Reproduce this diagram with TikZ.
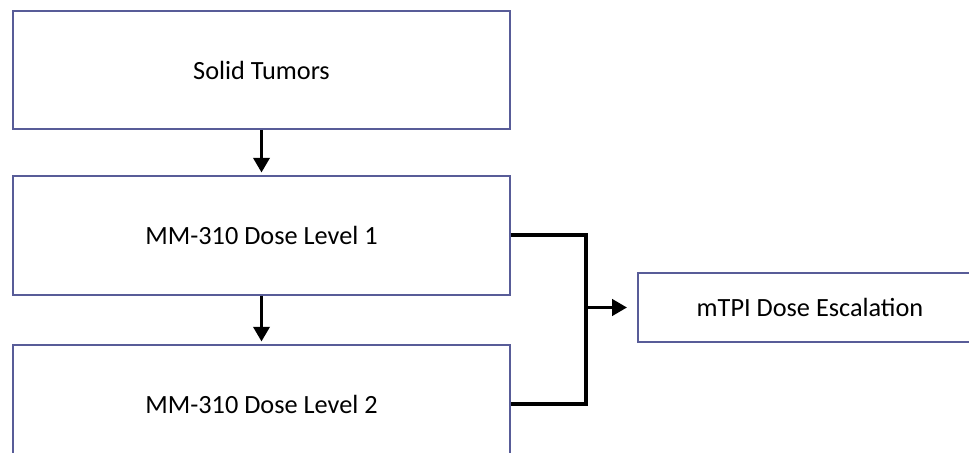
\documentclass[tikz,border=0pt]{standalone}
\usepackage{fontspec}
\setmainfont{Carlito}
\usetikzlibrary{arrows.meta,positioning}
\definecolor{boxline}{RGB}{88,92,152}

\begin{document}
\begin{tikzpicture}[font=\fontsize{18.7}{22}\selectfont,
 stage/.style={draw=boxline,line width=1.4pt,minimum width=12.425cm,minimum height=2.975cm,align=center},
 conn/.style={line width=2.8pt},
 flow/.style={conn,-{Triangle[length=0.37cm,width=0.4cm]},shorten >=0.06cm}]
\clip (0,0) rectangle (24.225,-11.325);
\node[stage,minimum height=2.95cm] (tumor) at (6.5375,-1.75) {Solid Tumors};
\node[stage,below=1.125cm of tumor] (lvl1) {MM-310 Dose Level 1};
\node[stage,below=1.2cm of lvl1] (lvl2) {MM-310 Dose Level 2};
\node[draw=boxline,line width=1.4pt,minimum width=8.6cm,minimum height=1.725cm] (esc) at (20.25,-7.6875) {mTPI Dose Escalation};
\draw[flow] (tumor) -- (lvl1);
\draw[flow] (lvl1) -- (lvl2);
% both levels join into the escalation box
\draw[conn] (lvl1.east) -- ++(1.875,0) coordinate (join) |- (lvl2.east);
\draw[flow,shorten >=0.25cm] (join |- esc.west) -- (esc.west);
\end{tikzpicture}
\end{document}
